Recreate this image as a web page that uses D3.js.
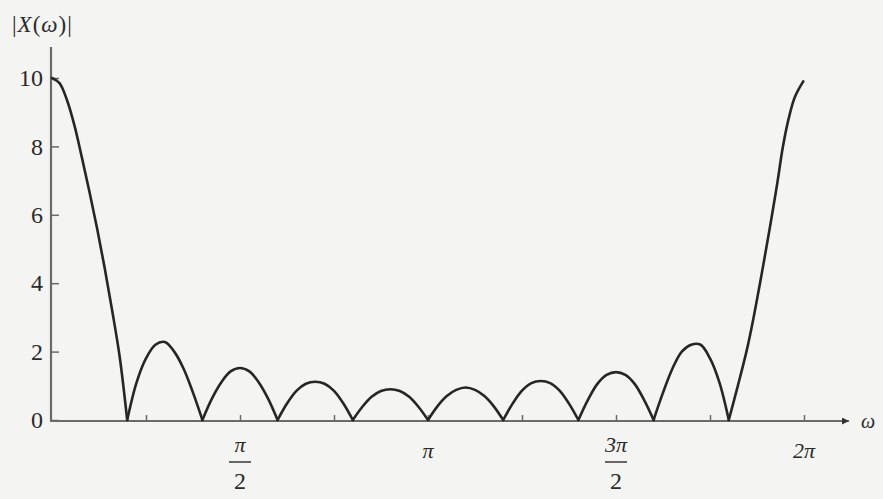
<!DOCTYPE html>
<html>
<head>
<meta charset="utf-8">
<script src="https://cdn.jsdelivr.net/npm/d3@7"></script>
<style>
  html, body { margin: 0; padding: 0; background: #f4f4f2; }
  svg { display: block; }
  text { font-family: "Liberation Serif", "DejaVu Serif", serif; fill: #2a2a2a; }
</style>
</head>
<body>
<svg id="chart" width="883" height="499"></svg>
<script>
// ω in units of π
const omega = [
  0, 0.02, 0.04, 0.06, 0.08, 0.1, 0.12, 0.14, 0.16, 0.18, 0.2,
  0.225, 0.25, 0.275, 0.3, 0.325, 0.35, 0.375, 0.4,
  0.425, 0.45, 0.475, 0.5, 0.525, 0.55, 0.575, 0.6,
  0.625, 0.65, 0.675, 0.7, 0.725, 0.75, 0.775, 0.8,
  0.825, 0.85, 0.875, 0.9, 0.925, 0.95, 0.975, 1.0,
  1.025, 1.05, 1.075, 1.1, 1.125, 1.15, 1.175, 1.2,
  1.225, 1.25, 1.275, 1.3, 1.325, 1.35, 1.375, 1.4,
  1.425, 1.45, 1.475, 1.5, 1.525, 1.55, 1.575, 1.6,
  1.625, 1.65, 1.675, 1.7, 1.725, 1.75, 1.775, 1.8,
  1.824, 1.848, 1.866, 1.883, 1.9, 1.915, 1.93, 1.944, 1.96, 1.976, 1.998
];
// |X(ω)|
const magnitude = [
  10, 9.85, 9.35, 8.6, 7.65, 6.65, 5.6, 4.45, 3.2, 1.85, 0,
  1.1, 1.8, 2.2, 2.28, 2.0, 1.5, 0.8, 0,
  0.62, 1.1, 1.42, 1.52, 1.42, 1.1, 0.62, 0,
  0.48, 0.85, 1.06, 1.12, 1.06, 0.85, 0.48, 0,
  0.38, 0.68, 0.85, 0.9, 0.85, 0.68, 0.38, 0,
  0.4, 0.7, 0.88, 0.95, 0.88, 0.7, 0.4, 0,
  0.48, 0.86, 1.08, 1.14, 1.08, 0.86, 0.48, 0,
  0.58, 1.05, 1.32, 1.4, 1.32, 1.05, 0.58, 0,
  0.8, 1.5, 2.0, 2.2, 2.2, 1.8, 1.1, 0,
  1.0, 2.05, 3.0, 4.0, 5.05, 6.0, 7.0, 8.0, 8.85, 9.45, 9.9
];
const yTicks = [0, 2, 4, 6, 8, 10];
const xTicks = [0.25, 0.5, 0.75, 1, 1.25, 1.5, 1.75, 2];
const xLabelValues = [0.5, 1, 1.5, 2];
const xLabelNum = ["π", "π", "3π", "2π"];
const xLabelDen = ["2", "", "2", ""];
const xTitle = "ω";

const svg = d3.select("#chart");
const x = d3.scaleLinear().domain([0, 2]).range([52, 804]);
const y = d3.scaleLinear().domain([0, 10]).range([420, 78]);
const axisColor = "#6a6a6a";

// arrow marker
svg.append("defs").append("marker")
  .attr("id", "arrow").attr("viewBox", "0 0 10 10")
  .attr("refX", 10).attr("refY", 5)
  .attr("markerWidth", 14).attr("markerHeight", 7)
  .attr("markerUnits", "userSpaceOnUse")
  .attr("orient", "auto")
  .append("path").attr("d", "M0,0 L10,5 L0,10 z").attr("fill", "#333");

// y axis
const yAxis = d3.axisLeft(y).tickValues(yTicks).tickSizeInner(-8).tickSizeOuter(0).tickPadding(8);
const gy = svg.append("g").attr("transform", `translate(${x(0) - 1},0)`).call(yAxis);
gy.select(".domain").remove();
gy.selectAll(".tick line").attr("stroke", axisColor).attr("stroke-width", 1.5);
gy.selectAll(".tick text").attr("font-size", 24).attr("fill", "#2a2a2a")
  .attr("font-family", "Liberation Serif, serif");
svg.append("line")
  .attr("x1", x(0) - 1).attr("x2", x(0) - 1)
  .attr("y1", 47).attr("y2", y(0) + 1)
  .attr("stroke", axisColor).attr("stroke-width", 2.2);

// x axis
const xAxis = d3.axisBottom(x).tickValues(xTicks).tickSizeInner(-6).tickSizeOuter(0).tickFormat("");
const gx = svg.append("g").attr("transform", `translate(0,${y(0) + 1})`).call(xAxis);
gx.select(".domain").remove();
gx.selectAll(".tick line").attr("stroke", axisColor).attr("stroke-width", 1.5);
svg.append("line")
  .attr("x1", x(0) - 2).attr("x2", 849)
  .attr("y1", y(0) + 1).attr("y2", y(0) + 1)
  .attr("stroke", axisColor).attr("stroke-width", 2.2)
  .attr("marker-end", "url(#arrow)");

// x labels
const lab = svg.append("g");
xLabelValues.forEach((v, i) => {
  const cx = x(v);
  if (xLabelDen[i]) {
    lab.append("text").attr("x", cx).attr("y", 452).attr("text-anchor", "middle")
      .attr("font-size", 22).attr("font-style", "italic").text(xLabelNum[i]);
    lab.append("line").attr("x1", cx - 11).attr("x2", cx + 11)
      .attr("y1", 462).attr("y2", 462).attr("stroke", "#2a2a2a").attr("stroke-width", 1.4);
    lab.append("text").attr("x", cx).attr("y", 489).attr("text-anchor", "middle")
      .attr("font-size", 24).text(xLabelDen[i]);
  } else {
    lab.append("text").attr("x", cx).attr("y", 458).attr("text-anchor", "middle")
      .attr("font-size", 22).attr("font-style", "italic").text(xLabelNum[i]);
  }
});

// axis titles
svg.append("text").attr("x", 868).attr("y", 428).attr("text-anchor", "middle")
  .attr("font-size", 20).attr("font-style", "italic").text(xTitle);
const yt = svg.append("text").attr("x", 12).attr("y", 32).attr("font-size", 23)
  .attr("letter-spacing", 1);
yt.append("tspan").text("|");
yt.append("tspan").attr("font-style", "italic").text("X");
yt.append("tspan").text("(");
yt.append("tspan").attr("font-style", "italic").text("ω");
yt.append("tspan").text(")|");

// split into lobes at zeros
const pts = omega.map((w, i) => [w, magnitude[i]]);
const lobes = [];
let cur = [];
pts.forEach((p, i) => {
  cur.push(p);
  if (p[1] === 0 && i > 0 && i < pts.length - 1) {
    lobes.push(cur);
    cur = [p];
  }
});
lobes.push(cur);

const line = d3.line().x(d => x(d[0])).y(d => y(d[1])).curve(d3.curveCatmullRom.alpha(0.5));
svg.append("g").selectAll("path").data(lobes).join("path")
  .attr("d", line)
  .attr("fill", "none").attr("stroke", "#262626").attr("stroke-width", 2.6)
  .attr("stroke-linejoin", "round").attr("stroke-linecap", "round");
</script>
</body>
</html>
